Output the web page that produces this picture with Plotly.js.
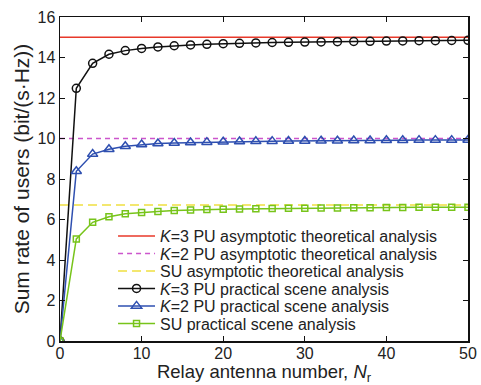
<!DOCTYPE html>
<html>
<head>
<meta charset="utf-8">
<script src="https://cdn.plot.ly/plotly-3.0.1.min.js"></script>
<style>html,body{margin:0;padding:0;background:#fff;}#chart{width:481px;height:385px;}</style>
</head>
<body>
<div id="chart"></div>
<script>
const nr = [0,2,4,6,8,10,12,14,16,18,20,22,24,26,28,30,32,34,36,38,40,42,44,46,48,50];
const k3Practical = [0,12.48,13.71,14.16,14.34,14.45,14.52,14.58,14.62,14.65,14.68,14.70,14.72,14.74,14.75,14.76,14.77,14.78,14.79,14.80,14.81,14.82,14.83,14.83,14.84,14.85];
const k2Practical = [0,8.38,9.23,9.47,9.62,9.70,9.75,9.78,9.80,9.82,9.84,9.85,9.86,9.87,9.88,9.88,9.89,9.89,9.90,9.90,9.91,9.91,9.92,9.92,9.92,9.93];
const suPractical = [0,5.04,5.86,6.14,6.28,6.35,6.40,6.44,6.47,6.49,6.51,6.52,6.53,6.54,6.55,6.56,6.57,6.57,6.58,6.58,6.59,6.59,6.60,6.60,6.61,6.61];
const k3Asym = 15.0;
const k2Asym = 10.0;
const suAsym = 6.72;
const xRange = [0, 50];
const xTicks = [0,10,20,30,40,50];
const yTicks = [0,2,4,6,8,10,12,14,16];
const names = [
  '<i>K</i>=3 PU asymptotic theoretical analysis',
  '<i>K</i>=2 PU asymptotic theoretical analysis',
  'SU asymptotic theoretical analysis',
  '<i>K</i>=3 PU practical scene analysis',
  '<i>K</i>=2 PU practical scene analysis',
  'SU practical scene analysis'
];

const legIds = ['legend','legend2','legend3','legend4','legend5','legend6'];
const traces = [
  {x: xRange, y: [k3Asym, k3Asym], mode: 'lines', name: names[0], legend: legIds[0], line: {color: '#e8392a', width: 1.5}},
  {x: xRange, y: [k2Asym, k2Asym], mode: 'lines', name: names[1], legend: legIds[1], line: {color: '#cc55cc', width: 1.5, dash: '5px,4px'}},
  {x: xRange, y: [suAsym, suAsym], mode: 'lines', name: names[2], legend: legIds[2], line: {color: '#f0e040', width: 1.5, dash: '9px,5px'}},
  {x: nr, y: k3Practical, mode: 'lines+markers', name: names[3], legend: legIds[3], line: {color: '#111111', width: 1.5},
   marker: {symbol: 'circle-open', size: 8, color: '#111111', line: {width: 1.5}}},
  {x: nr, y: k2Practical, mode: 'lines+markers', name: names[4], legend: legIds[4], line: {color: '#2e4fb0', width: 1.5},
   marker: {symbol: 'triangle-up-open', size: 9, color: '#2e4fb0', line: {width: 1.5}}},
  {x: nr, y: suPractical, mode: 'lines+markers', name: names[5], legend: legIds[5], line: {color: '#77c41a', width: 1.5},
   marker: {symbol: 'square-open', size: 6, color: '#77c41a', line: {width: 1.5}}}
];

const fontFam = 'Liberation Sans, Arial, sans-serif';
const layout = {
  width: 481, height: 385,
  margin: {l: 60, r: 13, t: 17, b: 44},
  paper_bgcolor: '#fff', plot_bgcolor: '#fff',
  font: {family: fontFam, size: 16, color: '#222'},
  showlegend: true,
  xaxis: {range: [0, 50], tickvals: xTicks, ticks: 'inside', ticklen: 5, tickcolor: '#111',
          showline: true, linecolor: '#111', linewidth: 1.5, mirror: 'allticks', showgrid: false, zeroline: false,
          tickfont: {size: 16}, ticklabelstandoff: -3,
          title: {text: 'Relay antenna number, <i>N</i><sub>r</sub>', font: {size: 18.5}, standoff: 1}},
  yaxis: {range: [0, 16], tickvals: yTicks, ticks: 'inside', ticklen: 5, tickcolor: '#111',
          showline: true, linecolor: '#111', linewidth: 1.5, mirror: 'allticks', showgrid: false, zeroline: false,
          tickfont: {size: 16},
          title: {text: 'Sum rate of users (bit/(s·Hz))', font: {size: 21}, standoff: 2}}
};
const rowPx = [236, 253.5, 271, 288.5, 306, 323.5];
legIds.forEach((id, i) => {
  layout[id] = {x: 0.13, y: (341 - rowPx[i]) / 324, xanchor: 'left', yanchor: 'middle',
    bgcolor: 'rgba(255,255,255,0)', borderwidth: 0, itemwidth: 37,
    font: {family: fontFam, size: 16, color: '#222'}};
});
Plotly.newPlot('chart', traces, layout, {displayModeBar: false, staticPlot: true});
</script>
</body>
</html>
